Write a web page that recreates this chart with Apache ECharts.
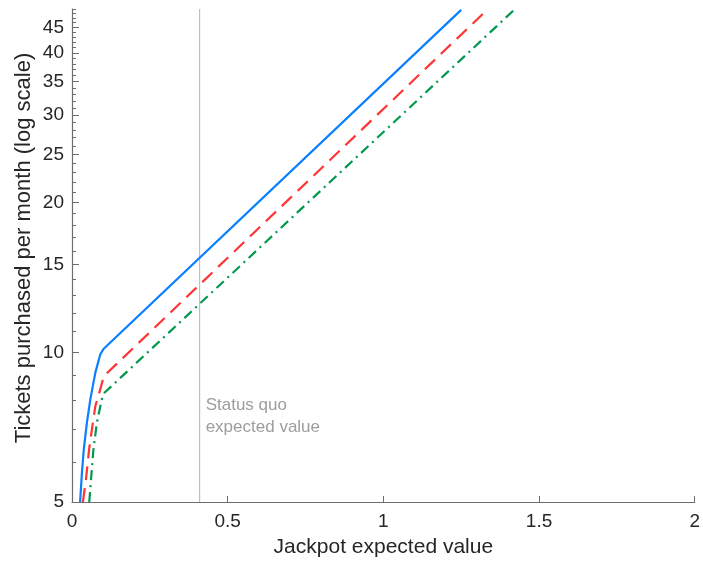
<!DOCTYPE html>
<html>
<head>
<meta charset="utf-8">
<script src="https://cdn.jsdelivr.net/npm/echarts@6/dist/echarts.min.js"></script>
<style>
  html, body { margin: 0; padding: 0; background: #fff; }
  #chart { width: 703px; height: 563px; }
</style>
</head>
<body>
<div id="chart"></div>
<script>
// Ticket purchases as a function of the jackpot's expected value (y on log scale)
var blueX  = [0.026, 0.032, 0.038, 0.048, 0.059, 0.075, 0.091, 0.101, 1.250];
var blueY  = [5.0,   5.74,  6.39,  7.23,  8.05,  9.1,   9.91,  10.15, 48.8];
var redX   = [0.035, 0.045, 0.055, 0.064, 0.075, 0.091, 0.102, 1.330];
var redY   = [5.0,   5.56,  6.39,  7.0,   7.8,   8.43,  8.95,  48.6];
var greenX = [0.0555, 0.062, 0.069, 0.080, 0.096, 0.105, 1.420];
var greenY = [5.0,    5.65,  6.39,  7.23,  8.05,  8.3,   48.8];

var statusQuoX = 0.41;
var yMin = 5, yMax = 49;
var yMajorTicks = [5, 10, 15, 20, 25, 30, 35, 40, 45];
var yMinorTicks = [];
for (var t = 5; t <= 49; t++) yMinorTicks.push(t);
var xTicks = [0, 0.5, 1, 1.5, 2];

function lg(v) { return Math.log10(v); }
function pairs(xs, ys) {
  return xs.map(function (x, i) { return [x, lg(ys[i])]; });
}

var font = 'Liberation Sans, Arial, sans-serif';
var axisGray = '#6e6e6e';
var textDark = '#262626';

var chart = echarts.init(document.getElementById('chart'), null, { renderer: 'canvas' });
chart.setOption({
  animation: false,
  backgroundColor: '#ffffff',
  grid: { left: 72, right: 6, top: 9, bottom: 60, containLabel: false },
  xAxis: {
    type: 'value',
    min: xTicks[0],
    max: xTicks[xTicks.length - 1],
    interval: 0.5,
    name: 'Jackpot expected value',
    nameLocation: 'middle',
    nameGap: 35,
    nameTextStyle: { fontFamily: font, fontSize: 21, color: textDark },
    axisLine: { lineStyle: { color: axisGray, width: 1.2 } },
    axisTick: { inside: true, length: 6, lineStyle: { color: axisGray } },
    axisLabel: { fontFamily: font, fontSize: 19, color: textDark, margin: 10 },
    splitLine: { show: false }
  },
  yAxis: [
    {
      type: 'value',
      min: lg(yMin),
      max: lg(yMax),
      position: 'left',
      name: 'Tickets purchased per month (log scale)',
      nameLocation: 'middle',
      nameGap: 37,
      nameMoveOverlap: false,
      nameTextStyle: { fontFamily: font, fontSize: 22, color: textDark, padding: [0, 0, 0, 15] },
      axisLine: { show: true, lineStyle: { color: axisGray, width: 1.2 } },
      axisTick: {
        show: true, inside: true, length: 7,
        customValues: yMajorTicks.map(lg),
        lineStyle: { color: axisGray }
      },
      axisLabel: {
        fontFamily: font, fontSize: 19, color: textDark, margin: 8,
        customValues: yMajorTicks.map(lg),
        formatter: function (v) { return String(Math.round(Math.pow(10, v))); }
      },
      splitLine: { show: false }
    },
    {
      type: 'value',
      min: lg(yMin),
      max: lg(yMax),
      position: 'left',
      offset: 0,
      axisLine: { show: false },
      axisTick: {
        show: true, inside: true, length: 4,
        customValues: yMinorTicks.map(lg),
        lineStyle: { color: axisGray }
      },
      axisLabel: { show: false },
      splitLine: { show: false }
    }
  ],
  series: [
    {
      type: 'line',
      data: [[statusQuoX, lg(yMin)], [statusQuoX, lg(yMax)]],
      showSymbol: false,
      lineStyle: { color: '#b3b3b3', width: 1 },
      silent: true,
      z: 1
    },
    {
      type: 'scatter',
      data: [[statusQuoX, lg(7.44)]],
      symbolSize: 0,
      silent: true,
      label: {
        show: true,
        position: 'right',
        distance: 6,
        formatter: 'Status quo\nexpected value',
        fontFamily: font,
        fontSize: 17,
        lineHeight: 22,
        color: '#858585',
        align: 'left',
        verticalAlign: 'middle'
      }
    },
    {
      type: 'line',
      data: pairs(blueX, blueY),
      showSymbol: false,
      clip: true,
      lineStyle: { color: '#0a7fff', width: 2.2, type: 'solid' },
      z: 3
    },
    {
      type: 'line',
      data: pairs(redX, redY),
      showSymbol: false,
      clip: true,
      lineStyle: { color: '#ff3535', width: 2.2, type: [14, 8] },
      z: 3
    },
    {
      type: 'line',
      data: pairs(greenX, greenY),
      showSymbol: false,
      clip: true,
      lineStyle: { color: '#00994c', width: 2.2, type: [10, 5, 2, 5] },
      z: 3
    }
  ]
});
</script>
</body>
</html>
